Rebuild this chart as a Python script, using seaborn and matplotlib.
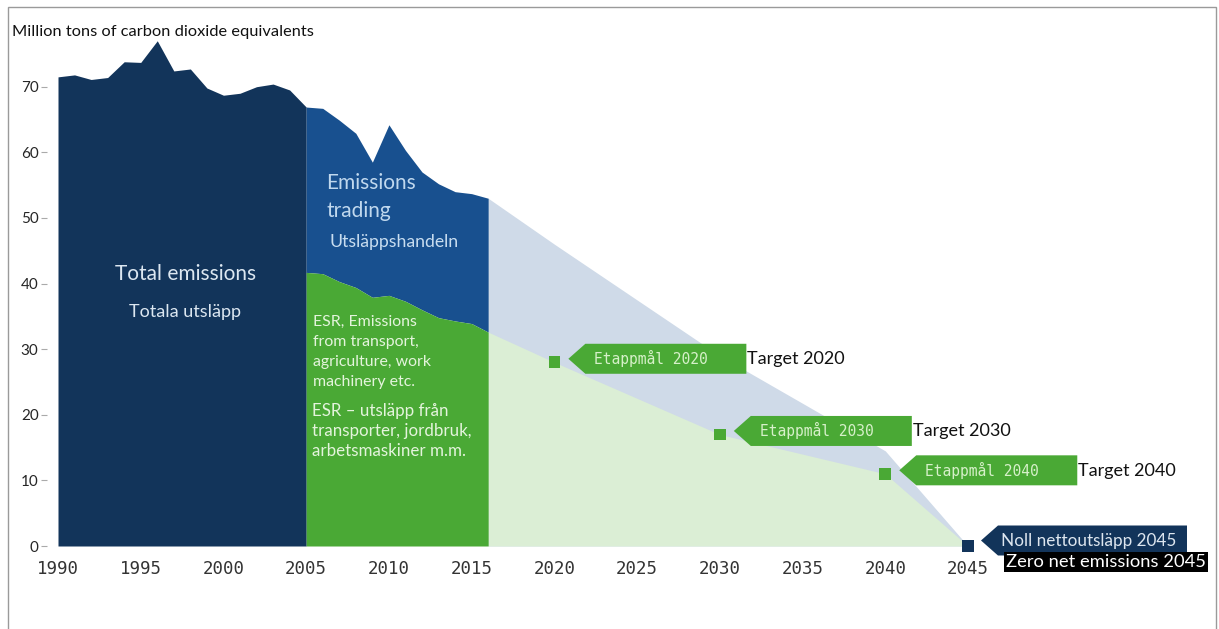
import numpy as np
import pandas as pd
import matplotlib
matplotlib.use("Agg")
import matplotlib.pyplot as plt
import matplotlib.transforms as mtransforms
from matplotlib.patches import Polygon, Rectangle
import seaborn as sns

# ---------------- data ----------------
hist_years = list(range(1990, 2006))
hist_total = [71.5, 71.8, 71.1, 71.4, 73.8, 73.7, 77.0, 72.4, 72.7, 69.8,
              68.7, 69.0, 70.0, 70.4, 69.5, 66.9]

split_years = list(range(2005, 2017))
split_total = [66.9, 66.7, 64.9, 62.9, 58.5, 64.2, 60.3, 57.0, 55.2, 54.0, 53.7, 53.0]
split_esr = [41.7, 41.5, 40.3, 39.4, 37.9, 38.2, 37.3, 36.0, 34.8, 34.3, 33.9, 32.6]

future_years = [2016, 2020, 2030, 2040, 2045]
future_total = [53.0, 46.0, 29.0, 14.5, 0.0]
future_esr = [32.6, 28.0, 17.0, 11.0, 0.0]

target_years = [2020, 2030, 2040]
target_values = [28.0, 17.0, 11.0]
target_sv = ["Etappmål 2020", "Etappmål 2030", "Etappmål 2040"]
target_en = ["Target 2020", "Target 2030", "Target 2040"]

zero_year = [2045]
zero_value = [0.0]
zero_sv = "Noll nettoutsläpp 2045"
zero_en = "Zero net emissions 2045"

x_ticks = list(range(1990, 2046, 5))
y_ticks = list(range(0, 71, 10))

# ---------------- style ----------------
sns.set_theme(style="white")
plt.rcParams['font.family'] = ['Lato', 'DejaVu Sans']

NAVY = "#12345a"
BLUE = "#18508f"
GREEN = "#4aa935"
LIGHT_BLUE = "#cfdae8"
LIGHT_GREEN = "#dbeed5"
MONO = ['DejaVu Sans Mono']

W, H = 1219, 629
fig = plt.figure(figsize=(W / 100, H / 100), dpi=100)
ppu = (546 - 86.7) / 70.0
ax = fig.add_axes([58 / W, (H - 546) / H, (968 - 58) / W, 80 * ppu / H])
ax.set_xlim(1990, 2045)
ax.set_ylim(0, 80)

# future projection areas
ax.fill_between(future_years, 0, future_total, color=LIGHT_BLUE, linewidth=0, zorder=1)
ax.fill_between(future_years, 0, future_esr, color=LIGHT_GREEN, linewidth=0, zorder=2)

# historical areas
ax.fill_between(hist_years, 0, hist_total, color=NAVY, linewidth=0, zorder=3)
ax.fill_between(split_years, split_esr, split_total, color=BLUE, linewidth=0, zorder=3)
ax.fill_between(split_years, 0, split_esr, color=GREEN, linewidth=0, zorder=3)

# target markers
tdf = pd.DataFrame({"year": target_years, "value": target_values})
sns.scatterplot(data=tdf, x="year", y="value", marker="s", s=70, color=GREEN,
                edgecolor="none", ax=ax, zorder=5, clip_on=False)
zdf = pd.DataFrame({"year": zero_year, "value": zero_value})
sns.scatterplot(data=zdf, x="year", y="value", marker="s", s=85, color=NAVY,
                edgecolor="none", ax=ax, zorder=5, clip_on=False)


def arrow_box(x, y, dx, dy, length, height, notch, color):
    px = [(dx, dy), (dx + notch, dy + height / 2), (dx + length, dy + height / 2),
          (dx + length, dy - height / 2), (dx + notch, dy - height / 2)]
    verts = [(a / 100, b / 100) for a, b in px]
    trans = fig.dpi_scale_trans + mtransforms.ScaledTranslation(x, y, ax.transData)
    poly = Polygon(verts, closed=True, transform=trans, facecolor=color,
                   edgecolor="none", zorder=6, clip_on=False)
    ax.add_patch(poly)


PT = 0.72  # points per pixel at dpi 100
for yr, val, sv, en in zip(target_years, target_values, target_sv, target_en):
    arrow_box(yr, val, 14, 3.5, 178, 30, 17, GREEN)
    ax.annotate(sv, xy=(yr, val), xytext=(97 * PT, 3.5 * PT), textcoords="offset points",
                ha="center", va="center", fontsize=10.5, family=MONO,
                color="#d6f0c9", zorder=7, annotation_clip=False)
    ax.annotate(en, xy=(yr, val), xytext=(193 * PT, 3 * PT), textcoords="offset points",
                ha="left", va="center", fontsize=13, color="#111111",
                zorder=7, annotation_clip=False)

arrow_box(zero_year[0], zero_value[0], 13, 5.5, 206, 30, 17, NAVY)
ax.annotate(zero_sv, xy=(zero_year[0], zero_value[0]), xytext=(33 * PT, 5 * PT),
            textcoords="offset points", ha="left", va="center", fontsize=12.3,
            color="#dde6ef", zorder=7, annotation_clip=False)
ax.annotate(zero_en, xy=(zero_year[0], zero_value[0]), xytext=(38 * PT, -16 * PT),
            textcoords="offset points", ha="left", va="center", fontsize=13.2,
            color="white", zorder=8, annotation_clip=False,
            bbox=dict(boxstyle="square,pad=0.1", facecolor="black", edgecolor="none"))

# in-area labels
ax.text(1997.7, 41.4, "Total emissions", ha="center", va="center", fontsize=15,
        color="#dce7f1", zorder=7)
ax.text(1997.7, 35.6, "Totala utsläpp", ha="center", va="center", fontsize=13,
        color="#dce7f1", zorder=7)
ax.text(2006.2, 55.3, "Emissions", ha="left", va="center", fontsize=15,
        color="#c0d8ee", zorder=7)
ax.text(2006.2, 51.0, "trading", ha="left", va="center", fontsize=15,
        color="#c0d8ee", zorder=7)
ax.text(2006.4, 46.3, "Utsläppshandeln", ha="left", va="center", fontsize=12.7,
        color="#c8ddf0", zorder=7)
esr_en = ["ESR, Emissions", "from transport,", "agriculture, work", "machinery etc."]
for i, line in enumerate(esr_en):
    ax.text(2005.4, 34.1 - i * 3.05, line, ha="left", va="center", fontsize=11.4,
            color="#e4f4dc", zorder=7)
esr_sv = ["ESR – utsläpp från", "transporter, jordbruk,", "arbetsmaskiner m.m."]
for i, line in enumerate(esr_sv):
    ax.text(2005.35, 20.6 - i * 3.05, line, ha="left", va="center", fontsize=12.2,
            color="#e4f4dc", zorder=7)

# axes styling
ax.set_xticks(x_ticks)
ax.set_yticks(y_ticks)
ax.set_xticklabels([str(t) for t in x_ticks], family=MONO, fontsize=12.5, color="#333333")
ax.set_yticklabels([str(t) for t in y_ticks], family=MONO, fontsize=12, color="#333333")
for s in ax.spines.values():
    s.set_visible(False)
ax.spines['left'].set_position(('outward', 8))
ax.tick_params(axis='x', length=0, pad=10)
ax.tick_params(axis='y', length=4, width=0.8, color="#aaaaaa", pad=2, left=True)
ax.set_xlabel("")
ax.set_ylabel("")
ax.grid(False)

fig.text(12 / W, 1 - 32 / H, "Million tons of carbon dioxide equivalents",
         ha="left", va="center", fontsize=11.8, color="#111111")

# outer frame
fig.add_artist(Rectangle((8 / W, -0.01), (1216 - 8) / W, 1 - 7 / H + 0.01,
                         transform=fig.transFigure, fill=False,
                         edgecolor="#9a9a9a", linewidth=1.0))

fig.savefig("out.png", dpi=100)
